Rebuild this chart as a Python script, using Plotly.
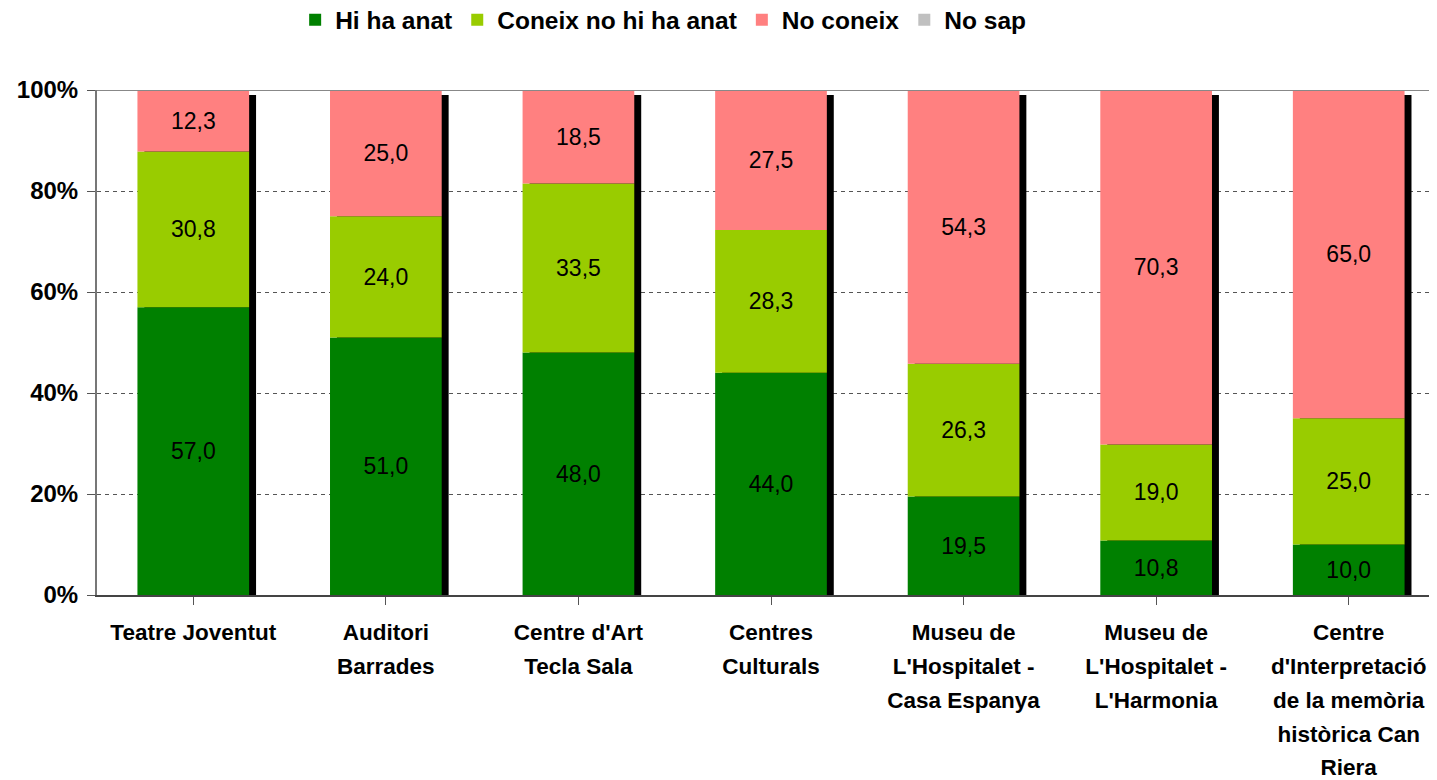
import plotly.graph_objects as go

categories = ["Teatre Joventut", "Auditori Barrades", "Centre d'Art Tecla Sala",
              "Centres Culturals", "Museu de L'Hospitalet - Casa Espanya",
              "Museu de L'Hospitalet - L'Harmonia",
              "Centre d'Interpretació de la memòria històrica Can Riera"]
tick_labels = [["Teatre Joventut"], ["Auditori", "Barrades"], ["Centre d'Art", "Tecla Sala"],
               ["Centres", "Culturals"], ["Museu de", "L'Hospitalet -", "Casa Espanya"],
               ["Museu de", "L'Hospitalet -", "L'Harmonia"],
               ["Centre", "d'Interpretació", "de la memòria", "històrica Can", "Riera"]]
y_ticks = [0, 20, 40, 60, 80, 100]
y_tick_labels = ["0%", "20%", "40%", "60%", "80%", "100%"]
hi_ha_anat = [57.0, 51.0, 48.0, 44.0, 19.5, 10.8, 10.0]
coneix_no_anat = [30.8, 24.0, 33.5, 28.3, 26.3, 19.0, 25.0]
no_coneix = [12.3, 25.0, 18.5, 27.5, 54.3, 70.3, 65.0]
no_sap = [0.0, 0.0, 0.0, 0.5, 0.0, 0.0, 0.0]

series = [("Hi ha anat", hi_ha_anat, "#008000"),
          ("Coneix no hi ha anat", coneix_no_anat, "#99CC00"),
          ("No coneix", no_coneix, "#FF8080"),
          ("No sap", no_sap, "#C0C0C0")]

x = list(range(len(categories)))
FONT = "Liberation Sans, Arial, sans-serif"
BAR_W = 0.58
totals = [sum(v) for v in zip(hi_ha_anat, coneix_no_anat, no_coneix, no_sap)]

fig = go.Figure()
# shadow behind bars
fig.add_trace(go.Bar(x=x, y=[min(t, 100) * 0.99 for t in totals], base=0, width=BAR_W,
                     offset=-BAR_W / 2 + 0.036,
                     marker=dict(color="black", line=dict(width=0)), showlegend=False,
                     hoverinfo="skip"))

base = [0.0] * len(x)
for name, vals, color in series:
    show_text = name != "No sap"
    fig.add_trace(go.Bar(
        x=x, y=vals, base=list(base), name=name, width=BAR_W, offset=-BAR_W / 2,
        marker=dict(color=color, line=dict(width=0)),
        text=[f"{v:.1f}".replace(".", ",") for v in vals] if show_text else None,
        textposition="inside" if show_text else "none",
        insidetextanchor="middle", textangle=0, constraintext="none",
        textfont=dict(family=FONT, size=23, color="black"),
    ))
    base = [b + v for b, v in zip(base, vals)]

ticktext = ["<br>".join(f"<span style='font-size:22.5px'>{l}</span>" for l in lines)
            for lines in tick_labels]

fig.update_layout(
    width=1437, height=780,
    barmode="overlay",
    plot_bgcolor="white", paper_bgcolor="white",
    margin=dict(l=89, r=0, t=82, b=193, autoexpand=False),
    font=dict(family=FONT, color="black"),
    separators=",.",
    legend=dict(orientation="h", x=0.147, xanchor="left", y=1.139, yanchor="middle",
                font=dict(family=FONT, size=24.5, color="black", weight="bold"),
                itemwidth=30, traceorder="normal", bgcolor="rgba(0,0,0,0)"),
    xaxis=dict(tickmode="array", tickvals=x, ticktext=ticktext, range=[-0.5, 6.5],
               tickson="boundaries", ticks="outside", ticklen=8, tickcolor="#555",
               showline=True, linecolor="#444", linewidth=2, showgrid=False,
               automargin=False, ticklabelstandoff=4,
               tickfont=dict(family=FONT, size=26, color="black", weight="bold")),
    yaxis=dict(range=[0, 100], tickmode="array", tickvals=y_ticks, ticktext=y_tick_labels,
               ticks="outside", ticklen=8, tickcolor="#555", showline=True,
               linecolor="#777", linewidth=2, showgrid=True, gridcolor="#555",
               griddash="4px,4px", gridwidth=1, zeroline=False, automargin=False,
               ticklabelstandoff=4,
               tickfont=dict(family=FONT, size=24, color="black", weight="bold")),
    shapes=[dict(type="line", xref="paper", yref="y", x0=0, x1=1, y0=100, y1=100,
                 line=dict(color="#888", width=2), layer="above")],
)

fig.write_html("out.html")
